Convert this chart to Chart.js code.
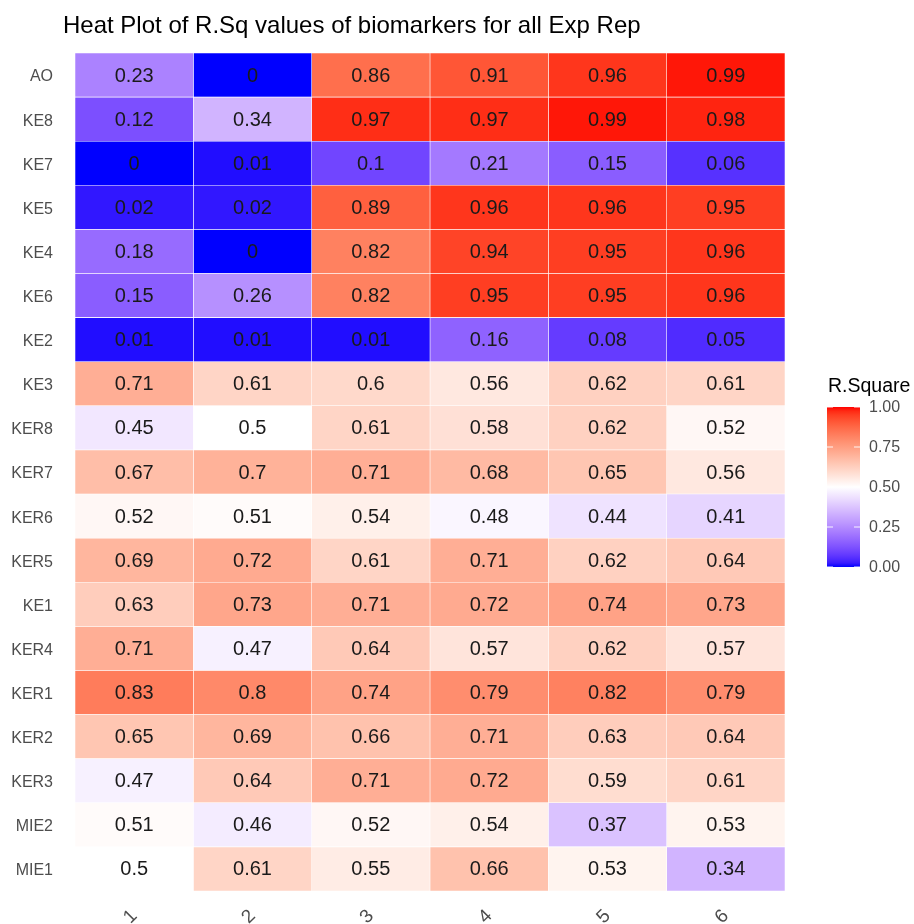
<!DOCTYPE html>
<html>
<head>
<meta charset="utf-8">
<script src="https://cdn.jsdelivr.net/npm/chart.js@4/dist/chart.umd.min.js"></script>
<style>
  html, body { margin: 0; padding: 0; background: #fff; }
  #wrap { width: 914px; height: 924px; }
</style>
</head>
<body>
<div id="wrap"><canvas id="heat" width="914" height="924"></canvas></div>
<script>
// Biomarkers, listed top to bottom
const markers = ['AO', 'KE8', 'KE7', 'KE5', 'KE4', 'KE6', 'KE2', 'KE3', 'KER8', 'KER7',
                 'KER6', 'KER5', 'KE1', 'KER4', 'KER1', 'KER2', 'KER3', 'MIE2', 'MIE1'];

// Experimental replicates (columns)
const repLabels = ['1', '2', '3', '4', '5', '6'];

// R-square per biomarker for each replicate
const rep1 = [0.23, 0.12, 0, 0.02, 0.18, 0.15, 0.01, 0.71, 0.45, 0.67, 0.52, 0.69, 0.63, 0.71, 0.83, 0.65, 0.47, 0.51, 0.5];
const rep2 = [0, 0.34, 0.01, 0.02, 0, 0.26, 0.01, 0.61, 0.5, 0.7, 0.51, 0.72, 0.73, 0.47, 0.8, 0.69, 0.64, 0.46, 0.61];
const rep3 = [0.86, 0.97, 0.1, 0.89, 0.82, 0.82, 0.01, 0.6, 0.61, 0.71, 0.54, 0.61, 0.71, 0.64, 0.74, 0.66, 0.71, 0.52, 0.55];
const rep4 = [0.91, 0.97, 0.21, 0.96, 0.94, 0.95, 0.16, 0.56, 0.58, 0.68, 0.48, 0.71, 0.72, 0.57, 0.79, 0.71, 0.72, 0.54, 0.66];
const rep5 = [0.96, 0.99, 0.15, 0.96, 0.95, 0.95, 0.08, 0.62, 0.62, 0.65, 0.44, 0.62, 0.74, 0.62, 0.82, 0.63, 0.59, 0.37, 0.53];
const rep6 = [0.99, 0.98, 0.06, 0.95, 0.96, 0.96, 0.05, 0.61, 0.52, 0.56, 0.41, 0.64, 0.73, 0.57, 0.79, 0.64, 0.61, 0.53, 0.34];
const reps = [rep1, rep2, rep3, rep4, rep5, rep6];

// Colour bar ticks
const legendTicks = [0, 0.25, 0.5, 0.75, 1];

// ---- diverging blue-white-red scale, interpolated in CIE Lab ----
function toLin(c) { c /= 255; return c <= 0.04045 ? c / 12.92 : Math.pow((c + 0.055) / 1.055, 2.4); }
function fromLin(c) {
  const v = c <= 0.0031308 ? 12.92 * c : 1.055 * Math.pow(c, 1 / 2.4) - 0.055;
  return Math.round(Math.max(0, Math.min(1, v)) * 255);
}
const XN = 0.95047, YN = 1, ZN = 1.08883;
function rgbToLab(rgb) {
  const r = toLin(rgb[0]), g = toLin(rgb[1]), b = toLin(rgb[2]);
  const X = 0.4124 * r + 0.3576 * g + 0.1805 * b;
  const Y = 0.2126 * r + 0.7152 * g + 0.0722 * b;
  const Z = 0.0193 * r + 0.1192 * g + 0.9505 * b;
  const f = t => t > 0.008856 ? Math.cbrt(t) : 7.787 * t + 16 / 116;
  const fx = f(X / XN), fy = f(Y / YN), fz = f(Z / ZN);
  return [116 * fy - 16, 500 * (fx - fy), 200 * (fy - fz)];
}
function labToRgb(lab) {
  const fy = (lab[0] + 16) / 116, fx = fy + lab[1] / 500, fz = fy - lab[2] / 200;
  const inv = t => t * t * t > 0.008856 ? t * t * t : (t - 16 / 116) / 7.787;
  const X = XN * inv(fx), Y = YN * inv(fy), Z = ZN * inv(fz);
  const r = 3.2406 * X - 1.5372 * Y - 0.4986 * Z;
  const g = -0.9689 * X + 1.8758 * Y + 0.0415 * Z;
  const b = 0.0557 * X - 0.2040 * Y + 1.0570 * Z;
  return [fromLin(r), fromLin(g), fromLin(b)];
}
const LOW = rgbToLab([0, 0, 255]), MID = rgbToLab([255, 255, 255]), HIGH = rgbToLab([255, 0, 0]);
function fillFor(v) {
  const t = Math.max(0, Math.min(1, v));
  let a, b, k;
  if (t < 0.5) { a = LOW; b = MID; k = t / 0.5; } else { a = MID; b = HIGH; k = (t - 0.5) / 0.5; }
  const lab = [0, 1, 2].map(i => a[i] + (b[i] - a[i]) * k);
  const c = labToRgb(lab);
  return `rgb(${c[0]},${c[1]},${c[2]})`;
}

const FONT = '"Liberation Sans", Arial, sans-serif';

// Each replicate is one stacked segment per biomarker row; the segment is one unit wide
// and its fill encodes the R-square value.
const datasets = reps.map((vals, i) => ({
  label: repLabels[i],
  data: markers.map(() => 1),
  rsq: vals,
  backgroundColor: vals.map(fillFor),
  borderColor: '#ffffff',
  borderWidth: 0.6,
  borderSkipped: false,
  barPercentage: 1,
  categoryPercentage: 1
}));

// Value printed in the middle of every cell
const cellLabels = {
  id: 'cellLabels',
  afterDatasetsDraw(chart) {
    const ctx = chart.ctx;
    ctx.save();
    ctx.font = `20px ${FONT}`;
    ctx.fillStyle = '#1a1a1a';
    ctx.textAlign = 'center';
    ctx.textBaseline = 'middle';
    chart.data.datasets.forEach((ds, di) => {
      chart.getDatasetMeta(di).data.forEach((el, ri) => {
        const p = el.getCenterPoint();
        ctx.fillText(String(ds.rsq[ri]), p.x, p.y + 1);
      });
    });
    ctx.restore();
  }
};

// Title and colour-bar legend
const decorations = {
  id: 'decorations',
  afterDraw(chart) {
    const ctx = chart.ctx;
    ctx.save();
    ctx.fillStyle = '#000';
    ctx.font = `24px ${FONT}`;
    ctx.textAlign = 'left';
    ctx.textBaseline = 'middle';
    ctx.fillText('Heat Plot of R.Sq values of biomarkers for all Exp Rep', 63, 26);

    const bx = 827, bw = 33, top = 407, bottom = 567;
    ctx.font = `19.5px ${FONT}`;
    ctx.fillStyle = '#000';
    ctx.fillText('R.Square', 828, 387);

    const grad = ctx.createLinearGradient(0, bottom, 0, top);
    for (let i = 0; i <= 40; i++) grad.addColorStop(i / 40, fillFor(i / 40));
    ctx.fillStyle = grad;
    ctx.fillRect(bx, top, bw, bottom - top);

    ctx.font = `16px ${FONT}`;
    legendTicks.forEach(t => {
      const y = bottom - (bottom - top) * t;
      ctx.strokeStyle = 'rgba(255,255,255,0.9)';
      ctx.lineWidth = 1;
      ctx.beginPath();
      ctx.moveTo(bx, y); ctx.lineTo(bx + 6, y);
      ctx.moveTo(bx + bw - 6, y); ctx.lineTo(bx + bw, y);
      ctx.stroke();
      ctx.fillStyle = '#4d4d4d';
      ctx.fillText(t.toFixed(2), 869, y + 1);
    });
    ctx.restore();
  }
};

new Chart(document.getElementById('heat'), {
  type: 'bar',
  data: { labels: markers, datasets },
  options: {
    indexAxis: 'y',
    responsive: false,
    animation: false,
    layout: { padding: { top: 53, right: 129, left: 0, bottom: 0 } },
    plugins: { legend: { display: false }, tooltip: { enabled: false }, title: { display: false } },
    scales: {
      x: {
        type: 'linear',
        stacked: true,
        min: 0,
        max: reps.length,
        grid: { display: false, drawTicks: false },
        border: { display: false },
        afterBuildTicks(scale) { scale.ticks = repLabels.map((_, i) => ({ value: i + 0.5 })); },
        afterFit(scale) { scale.height = 33; },
        ticks: {
          autoSkip: false,
          minRotation: 45,
          maxRotation: 45,
          padding: 14,
          color: '#4d4d4d',
          font: { family: FONT, size: 19 },
          callback: (v, i) => repLabels[i]
        }
      },
      y: {
        stacked: true,
        grid: { display: false, drawTicks: false },
        border: { display: false },
        afterFit(scale) { scale.width = 75; },
        ticks: {
          padding: 22,
          labelOffset: 2,
          color: '#4d4d4d',
          font: { family: FONT, size: 16 }
        }
      }
    }
  },
  plugins: [cellLabels, decorations]
});
</script>
</body>
</html>
